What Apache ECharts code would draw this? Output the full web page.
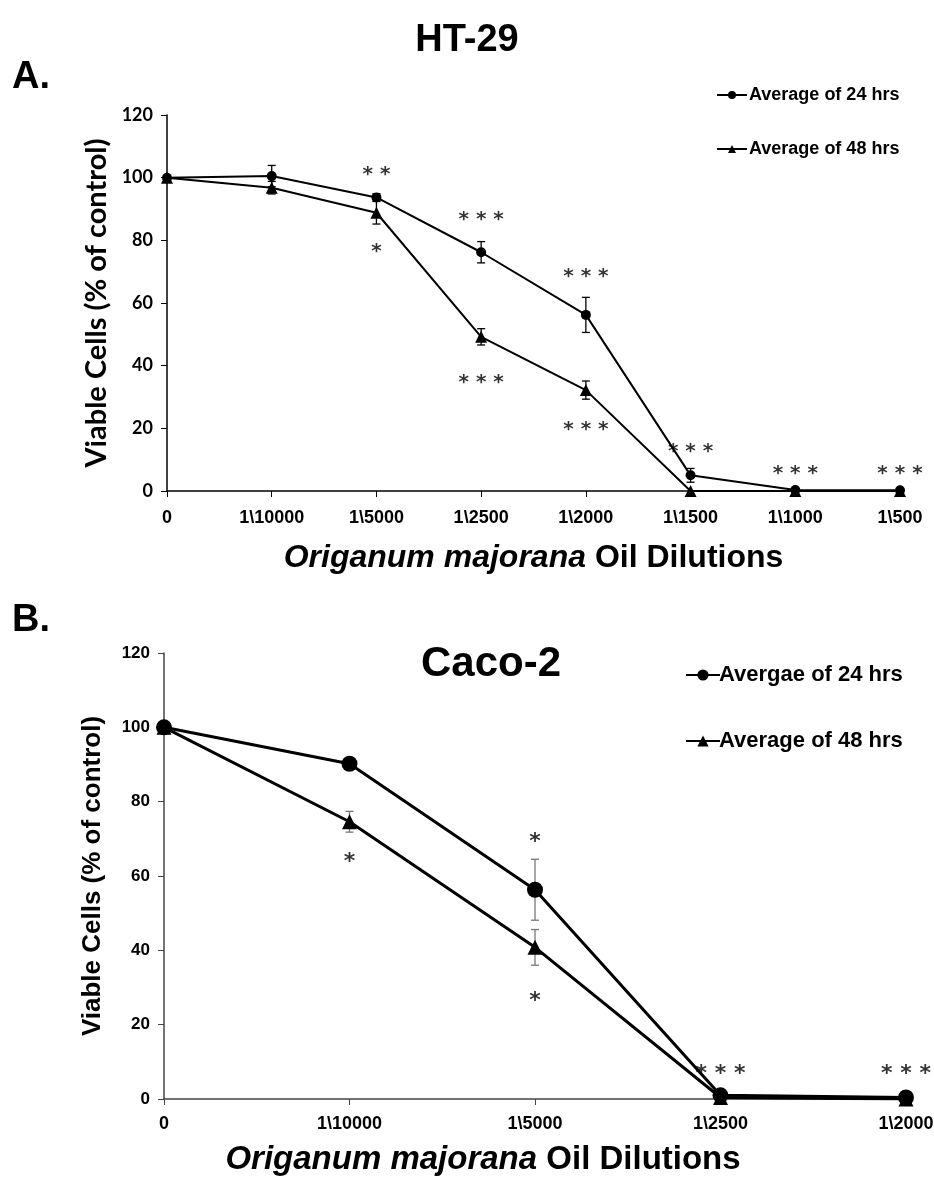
<!DOCTYPE html>
<html>
<head>
<meta charset="utf-8">
<script src="https://cdn.jsdelivr.net/npm/echarts@6/dist/echarts.min.js"></script>
<style>
html,body{margin:0;padding:0;background:#fff;}
#a{position:absolute;left:0;top:0;width:934px;height:590px;}
#b{position:absolute;left:0;top:590px;width:934px;height:590px;}
</style>
</head>
<body>
<div id="a"></div>
<div id="b"></div>
<script>
// ---------- Panel A: HT-29 ----------
const catsA = ['0', '1\\10000', '1\\5000', '1\\2500', '1\\2000', '1\\1500', '1\\1000', '1\\500'];
const a24 = [100, 100.5, 93.7, 76.2, 56.2, 5.0, 0.3, 0.2];
const a24err = [0, 3.4, 1.2, 3.4, 5.6, 2.2, 0, 0];
const a48 = [100, 96.8, 88.8, 49.2, 32.2, 0, 0, 0];
const a48err = [0, 2.0, 3.6, 2.6, 2.9, 0, 0, 0];
const annA = [[2, 102.5, '* *'], [2, 78, '*'], [3, 88, '* * *'], [3, 36, '* * *'], [4, 70, '* * *'], [4, 21, '* * *'], [5, 14, '* * *'], [6, 7, '* * *'], [7, 7, '* * *']];
const namesA = ['Average of 24 hrs', 'Average of 48 hrs'];

// ---------- Panel B: Caco-2 ----------
const catsB = ['0', '1\\10000', '1\\5000', '1\\2500', '1\\2000'];
const b24 = [100, 90.2, 56.3, 1.0, 0.4];
const b24err = [0, 1.5, 8.2, 0.5, 0];
const b48 = [100, 74.6, 40.8, 0.4, 0];
const b48err = [0, 2.8, 4.8, 0, 0];
const annB = [[1, 65, '*'], [2, 70.5, '*'], [2, 27.7, '*'], [3, 8, '* * *'], [4, 8, '* * *']];
const namesB = ['Avergae of 24 hrs', 'Average of 48 hrs'];

const yTicks = {min: 0, max: 120, interval: 20};

function errData(mean, err) {
  const out = [];
  mean.forEach((m, i) => { if (err[i] > 0) out.push([i, m - err[i], m + err[i]]); });
  return out;
}
function errSeries(mean, err, color, cap, w) {
  return {
    type: 'custom', name: 'err', z: 3,
    data: errData(mean, err),
    renderItem: function (params, api) {
      const lo = api.coord([api.value(0), api.value(1)]);
      const hi = api.coord([api.value(0), api.value(2)]);
      const st = {stroke: color, lineWidth: w};
      return {type: 'group', children: [
        {type: 'line', shape: {x1: lo[0], y1: lo[1], x2: hi[0], y2: hi[1]}, style: st},
        {type: 'line', shape: {x1: lo[0] - cap, y1: lo[1], x2: lo[0] + cap, y2: lo[1]}, style: st},
        {type: 'line', shape: {x1: hi[0] - cap, y1: hi[1], x2: hi[0] + cap, y2: hi[1]}, style: st}
      ]};
    }
  };
}
function annSeries(ann, size) {
  return {
    type: 'scatter', name: 'ann', symbolSize: 0, z: 10, silent: true,
    data: ann,
    label: {show: true, position: 'inside', formatter: p => p.value[2], offset: [0, 5],
      fontFamily: 'DejaVu Sans', fontWeight: 'bold', fontSize: size, color: '#000'}
  };
}
function titleRich(size) {
  return {
    fontSize: size,
    rich: {
      i: {fontStyle: 'italic', fontWeight: 'bold', fontFamily: 'Liberation Sans', color: '#000', fontSize: size},
      n: {fontWeight: 'bold', fontFamily: 'Liberation Sans', color: '#000', fontSize: size}
    }
  };
}

// ----- Chart A -----
const chA = echarts.init(document.getElementById('a'), null, {renderer: 'canvas'});
chA.setOption({
  animation: false,
  backgroundColor: '#fff',
  title: [
    {text: 'HT-29', left: 'center', top: 22, padding: 0,
      textStyle: {fontFamily: 'Liberation Sans', fontWeight: 'bold', fontSize: 38, color: '#000'}},
    {text: 'A.', left: 12, top: 59, padding: 0,
      textStyle: {fontFamily: 'Liberation Sans', fontWeight: 'bold', fontSize: 38, color: '#000'}}
  ],
  legend: {
    orient: 'vertical', left: 711, top: 81, itemWidth: 30, itemHeight: 10, itemGap: 36,
    data: namesA,
    textStyle: {fontFamily: 'Liberation Sans', fontWeight: 'bold', fontSize: 18, color: '#000', padding: [0, 0, 0, -3]}
  },
  grid: {left: 167, right: 34, top: 115, bottom: 99, outerBoundsMode: 'none'},
  xAxis: {
    type: 'category', data: catsA, boundaryGap: false,
    axisLine: {lineStyle: {color: '#000', width: 1.5}},
    axisTick: {show: true, length: 6, inside: false, lineStyle: {color: '#000'}},
    axisLabel: {margin: 18, fontFamily: 'Liberation Sans', fontWeight: 'bold', fontSize: 18, color: '#000'},
    name: '{i|Origanum majorana} {n|Oil Dilutions}', nameLocation: 'middle', nameGap: 51,
    nameTextStyle: titleRich(32)
  },
  yAxis: {
    type: 'value', min: yTicks.min, max: yTicks.max, interval: yTicks.interval,
    splitLine: {show: false},
    axisLine: {show: true, lineStyle: {color: '#000', width: 1.5}},
    axisTick: {show: true, length: 6, lineStyle: {color: '#000'}},
    axisLabel: {margin: 14, fontFamily: 'Lato', fontWeight: 'bold', fontSize: 18, color: '#000'},
    name: 'Viable Cells (% of control)', nameLocation: 'middle', nameGap: 54, nameRotate: 90,
    nameTextStyle: {fontFamily: 'Lato', fontWeight: 'bold', fontSize: 29, color: '#000'}
  },
  series: [
    {name: namesA[0], type: 'line', data: a24, symbol: 'circle', symbolSize: 10, z: 5,
      lineStyle: {color: '#000', width: 2}, itemStyle: {color: '#000'}},
    {name: namesA[1], type: 'line', data: a48, symbol: 'triangle', symbolSize: 12, z: 5,
      lineStyle: {color: '#000', width: 2}, itemStyle: {color: '#000'}},
    errSeries(a24, a24err, '#000', 4, 1.3),
    errSeries(a48, a48err, '#000', 4, 1.3),
    annSeries(annA, 20)
  ]
});

// ----- Chart B -----
const chB = echarts.init(document.getElementById('b'), null, {renderer: 'canvas'});
chB.setOption({
  animation: false,
  backgroundColor: '#fff',
  title: [
    {text: 'B.', left: 12, top: 12, padding: 0,
      textStyle: {fontFamily: 'Liberation Sans', fontWeight: 'bold', fontSize: 38, color: '#000'}},
    {text: 'Caco-2', left: 421, top: 53, padding: 0,
      textStyle: {fontFamily: 'Liberation Sans', fontWeight: 'bold', fontSize: 42, color: '#000'}}
  ],
  legend: {
    orient: 'vertical', left: 680, top: 69, itemWidth: 34, itemHeight: 14, itemGap: 44,
    data: namesB,
    textStyle: {fontFamily: 'Liberation Sans', fontWeight: 'bold', fontSize: 22, color: '#000', padding: [0, 0, 0, -6]}
  },
  grid: {left: 164, right: 28, top: 63, bottom: 81, outerBoundsMode: 'none'},
  xAxis: {
    type: 'category', data: catsB, boundaryGap: false,
    axisLine: {lineStyle: {color: '#444', width: 1.5}},
    axisTick: {show: true, length: 6, inside: false, lineStyle: {color: '#444'}},
    axisLabel: {margin: 16, fontFamily: 'Liberation Sans', fontWeight: 'bold', fontSize: 18, color: '#000'},
    name: '{i|Origanum majorana} {n|Oil Dilutions}', nameLocation: 'middle', nameGap: 44,
    nameTextStyle: Object.assign(titleRich(33), {padding: [0, 104, 0, 0]})
  },
  yAxis: {
    type: 'value', min: yTicks.min, max: yTicks.max, interval: yTicks.interval,
    splitLine: {show: false},
    axisLine: {show: true, lineStyle: {color: '#444', width: 1.5}},
    axisTick: {show: true, length: 6, lineStyle: {color: '#444'}},
    axisLabel: {margin: 14, fontFamily: 'Liberation Sans', fontWeight: 'bold', fontSize: 17, color: '#000'},
    name: 'Viable Cells (% of control)', nameLocation: 'middle', nameGap: 58, nameRotate: 90,
    nameTextStyle: {fontFamily: 'Liberation Sans', fontWeight: 'bold', fontSize: 26, color: '#000'}
  },
  series: [
    {name: namesB[0], type: 'line', data: b24, symbol: 'circle', symbolSize: 16, z: 5,
      lineStyle: {color: '#000', width: 3}, itemStyle: {color: '#000'}},
    {name: namesB[1], type: 'line', data: b48, symbol: 'triangle', symbolSize: 15, z: 5,
      lineStyle: {color: '#000', width: 3}, itemStyle: {color: '#000'}},
    errSeries(b24, b24err, '#777', 4, 1.3),
    errSeries(b48, b48err, '#777', 4, 1.3),
    annSeries(annB, 22)
  ]
});
</script>
</body>
</html>
